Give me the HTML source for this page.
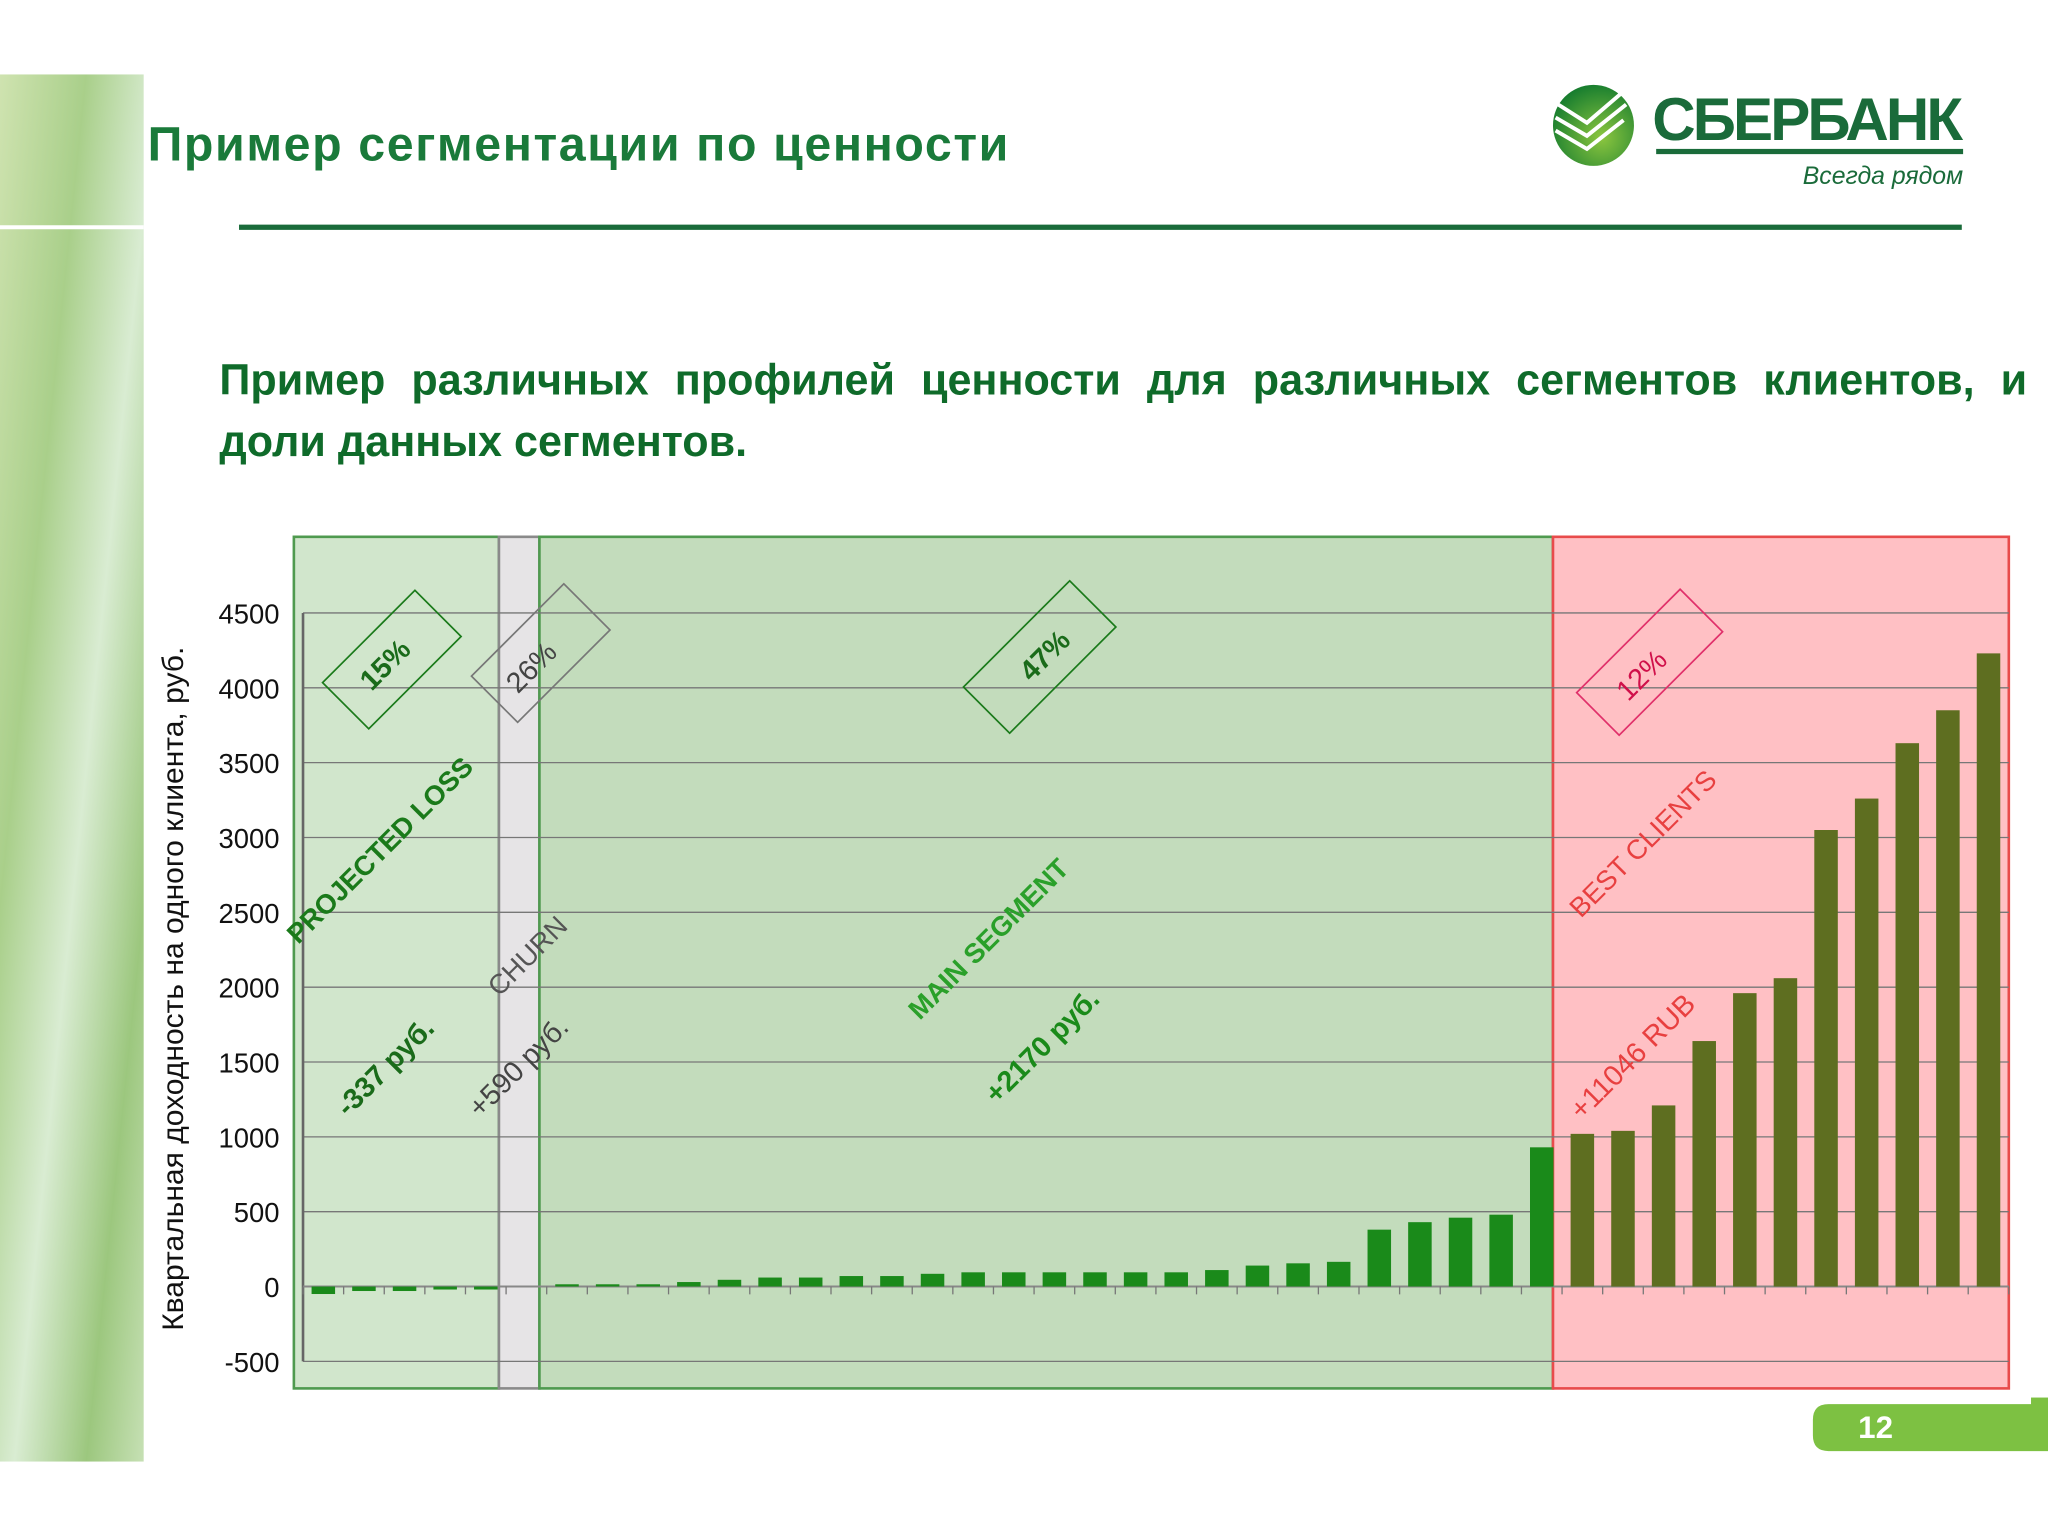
<!DOCTYPE html>
<html><head><meta charset="utf-8">
<style>
html,body{margin:0;padding:0;background:#fff;}
svg{display:block;}
text{font-family:"Liberation Sans","DejaVu Sans",sans-serif;}
</style></head>
<body>
<svg id="page" width="2048" height="1536" viewBox="0 0 1568 1176" xmlns="http://www.w3.org/2000/svg">
<defs>
<linearGradient id="leaf" x1="0" y1="0" x2="1" y2="1">
<stop offset="0" stop-color="#cfe3b0"/><stop offset="0.3" stop-color="#a9cf8a"/><stop offset="0.55" stop-color="#d9ecd2"/><stop offset="0.8" stop-color="#9cc77e"/><stop offset="1" stop-color="#c6e0b4"/>
</linearGradient>
<radialGradient id="ball" cx="0.6" cy="0.65" r="0.7"><stop offset="0" stop-color="#8cc63f"/><stop offset="1" stop-color="#127a2e"/></radialGradient>
</defs>
<rect width="1568" height="1176" fill="#fff"/>
<rect x="0" y="57" width="110" height="1062" fill="url(#leaf)"/>
<line x1="0" y1="174" x2="110" y2="174" stroke="#fff" stroke-width="3"/>
<text x="113" y="123" font-size="37" font-weight="bold" fill="#1a7a3a" textLength="659">Пример сегментации по ценности</text>
<line x1="183" y1="174" x2="1502" y2="174" stroke="#1a6b3a" stroke-width="4"/>
<g>
<circle cx="1220" cy="96" r="31" fill="url(#ball)"/>
<path d="M1193 80 l22 14 l28 -24 M1191 90 l24 14 l30 -24 M1191 100 l24 14 l28 -22" stroke="#fff" stroke-width="3" fill="none"/>
<text x="1265" y="107" font-family="Liberation Serif,serif" font-size="46" font-weight="bold" fill="#1a6b3a" textLength="238">СБЕРБАНК</text>
<rect x="1268" y="114" width="235" height="4" fill="#1a6b3a"/>
<text x="1503" y="141" text-anchor="end" font-size="19" font-style="italic" fill="#1a6b3a">Всегда рядом</text>
</g>
<text id="sub1" x="168" y="302" font-size="33" font-weight="bold" fill="#0f6b2a">Пример различных профилей ценности для различных сегментов клиентов, и</text>
<text x="168" y="349" font-size="33" font-weight="bold" fill="#0f6b2a">доли данных сегментов.</text>
<g id="chart"></g>
<g>
<path d="M1400 1075 H1568 V1111 H1400 Q1388 1111 1388 1099 V1087 Q1388 1075 1400 1075Z" fill="#7dc142"/>
<rect x="1555" y="1070" width="13" height="8" fill="#7dc142"/>
<text x="1436" y="1101" text-anchor="middle" font-size="24" font-weight="bold" fill="#fff">12</text>
</g>
</svg>
<script>
const yTicks=[-500,0,500,1000,1500,2000,2500,3000,3500,4000,4500];
const lossValues=[-50,-30,-30,-20,-20];
const churnValues=[0];
const mainValues=[15,15,15,30,45,60,60,70,70,85,95,95,95,95,95,95,110,140,155,165,380,430,460,480,930];
const bestValues=[1020,1040,1210,1640,1960,2060,3050,3260,3630,3850,4230];
const segmentNames=["projected-loss","churn","main-segment","best-clients"];

// justify subtitle line 1 via word spacing
(function(){const s=document.getElementById('sub1');const w=s.getComputedTextLength();const gaps=s.textContent.split(' ').length-1;const extra=(1384-w)/gaps;if(extra>0)s.setAttribute('word-spacing',extra);})();

const NS="http://www.w3.org/2000/svg";
const chart=document.getElementById('chart');
const values=lossValues.concat(churnValues,mainValues,bestValues);
const n=values.length;
const X0=232,X1=1538,Y0=985,PX=57.3/500;
const step=(X1-X0)/n;
function y(v){return Y0-v*PX;}
function xc(i){return X0+step*(i+0.5);}
function xb(i){return X0+step*i;}
function mk(tag,attrs,parent){const e=document.createElementNS(NS,tag);for(const k in attrs)e.setAttribute(k,attrs[k]);(parent||chart).appendChild(e);return e;}

const b1=lossValues.length,b2=b1+churnValues.length,b3=b2+mainValues.length;
const segs=[[225,382,'#d1e6cc','#4f9a4f'],[382,413,'#e6e4e6','#8a8a8a'],[413,1189,'#c3dcbc','#4f9a4f'],[1189,1538,'#ffc0c4','#e84b4b']];
segs.forEach((s,i)=>{
 const r=mk('rect',{x:s[0],y:411,width:s[1]-s[0],height:652,fill:s[2],stroke:s[3],'stroke-width':2});
 
 
});
yTicks.forEach(t=>{
 const l=mk('line',{x1:X0,x2:X1,y1:y(t),y2:y(t),stroke:'#777','stroke-width':1});
 
 
 const tx=mk('text',{x:214,y:y(t)+8,'text-anchor':'end','font-size':21,fill:'#111'});
 tx.textContent=t;
 
 
});
const ax=mk('line',{x1:X0,x2:X0,y1:y(4500),y2:y(-500),stroke:'#666','stroke-width':2});


const xa=mk('line',{x1:X0,x2:X1,y1:Y0,y2:Y0,stroke:'#888','stroke-width':1.5});


for(let i=0;i<=n;i++){const t=mk('line',{x1:xb(i),x2:xb(i),y1:Y0,y2:Y0+6,stroke:'#777','stroke-width':1});
 
 }
values.forEach((v,i)=>{
 if(v===0)return;
 const top=Math.min(y(v),Y0),h=Math.abs(y(v)-Y0);
 const b=mk('rect',{x:xc(i)-9,y:top,width:18,height:Math.max(h,1),fill:i>=b3?'#5e6e20':'#1a8a1a'});
 
 
});
function box(cx,cy,w,h,col,name){const r=mk('rect',{x:cx-w/2,y:cy-h/2,width:w,height:h,fill:'none',stroke:col,'stroke-width':1.3,transform:`rotate(-45 ${cx} ${cy})`});
 
 }
function lab(cx,cy,txt,col,size,name,bold){const t=mk('text',{x:cx,y:cy,'text-anchor':'middle','dominant-baseline':'middle','font-size':size,fill:col,'font-weight':bold?'bold':'normal',transform:`rotate(-45 ${cx} ${cy})`});t.textContent=txt;
 
 }
box(300,505,100,50,'#1a7a1a','share-box-15');
box(414,500,100,50,'#777','share-box-26');
box(796,503,115,50,'#1a7a1a','share-box-47');
box(1263,507,112,46,'#e0306a','share-box-12');
lab(296,510,'15%','#1a6b1a',22,'share-15',true);
lab(408,512,'26%','#444',22,'share-26',false);
lab(801,503,'47%','#1a6b1a',22,'share-47',true);
lab(1258,518,'12%','#d0104a',22,'share-12',false);
lab(292,652,'PROJECTED LOSS','#1a7a1a',21,'label-projected-loss',true);
lab(405,733,'CHURN','#555',21,'label-churn',false);
lab(758,720,'MAIN SEGMENT','#2aa02a',21,'label-main-segment',true);
lab(1259,647,'BEST CLIENTS','#e84040',21,'label-best-clients',false);
lab(296,818,'-337 руб.','#1a6b1a',22,'value-projected-loss',true);
lab(398,818,'+590 руб.','#444',22,'value-churn',false);
lab(799,802,'+2170 руб.','#1a8a1a',22,'value-main-segment',true);
lab(1251,810,'+11046 RUB','#e84040',22,'value-best-clients',false);
const yt=mk('text',{x:140,y:757,'text-anchor':'middle','font-size':23,fill:'#111',transform:'rotate(-90 140 757)'});
yt.textContent='Квартальная доходность на одного клиента, руб.';


</script>
</body></html>
